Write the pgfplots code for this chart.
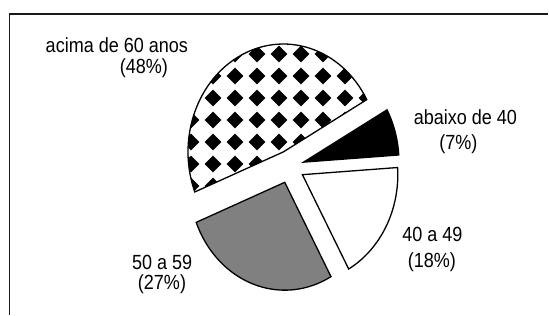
\documentclass[border=0pt]{standalone}
\usepackage{pgfplots}
\pgfplotsset{compat=1.18}
\usepackage{fontspec}
\setmainfont{Liberation Sans}[FakeStretch=0.88]
\usetikzlibrary{patterns}

\newcommand\dmd[2]{% diamond centred at (#1,#2) pt
  \pgfpathmoveto{\pgfqpoint{#1pt}{\dimexpr#2pt-8.3pt\relax}}%
  \pgfpathlineto{\pgfqpoint{\dimexpr#1pt+8.3pt\relax}{#2pt}}%
  \pgfpathlineto{\pgfqpoint{#1pt}{\dimexpr#2pt+8.3pt\relax}}%
  \pgfpathlineto{\pgfqpoint{\dimexpr#1pt-8.3pt\relax}{#2pt}}%
  \pgfpathclose}
\pgfdeclarepatternformonly{bigdiamonds}{\pgfqpoint{0pt}{0pt}}{\pgfqpoint{22pt}{22pt}}{\pgfqpoint{22pt}{22pt}}{%
  \dmd{16}{20}\dmd{-6}{20}\dmd{16}{-2}\dmd{-6}{-2}%
  \pgfusepath{fill}%
}

% pie values (percent), counter-clockwise from the start angle
\def\vA{18} % 40 a 49
\def\vB{7}  % abaixo de 40
\def\vC{48} % acima de 60 anos
\def\vD{27} % 50 a 59
\pgfmathsetmacro\aA{-61}
\pgfmathsetmacro\aB{\aA+3.6*\vA}
\pgfmathsetmacro\aC{\aB+3.6*\vB}
\pgfmathsetmacro\aD{\aC+3.6*\vC}
\pgfmathsetmacro\aE{\aD+3.6*\vD}

\newcommand\pieslice[3]{%
  \pgfmathsetmacro\pmid{(#1+#2)/2}%
  \pgfmathsetmacro\tx{290+14.6*cos(\pmid)}%
  \pgfmathsetmacro\ty{148+16.5*sin(\pmid)}%
  \pgfmathsetmacro\sx{95.5*cos(#1)}%
  \pgfmathsetmacro\sy{108*sin(#1)}%
  \edef\tmp{\noexpand\filldraw[line width=1.3pt,#3] (axis cs:\tx,\ty) -- ++(\sx pt,\sy pt) arc[start angle=#1, end angle=#2, x radius=95.5pt, y radius=108pt] -- cycle;}%
  \tmp
}
\newcommand\lbl{\fontsize{20.5}{24}\selectfont}

\begin{document}
\begin{tikzpicture}
\begin{axis}[
  scale only axis, width=549pt, height=315pt,
  xmin=0, xmax=549, ymin=0, ymax=315,
  hide axis, clip=false,
]
\path (axis cs:0,0) rectangle (axis cs:549,315);
\draw[line width=1.4pt, black!90] (axis cs:9.3,0) -- (axis cs:9.3,301) -- (axis cs:549,301);

\pieslice{\aA}{\aB}{fill=white}
\pieslice{\aB}{\aC}{fill=black}
\pieslice{\aC}{\aD}{fill=white, postaction={pattern=bigdiamonds}}
\pieslice{\aD}{\aE}{fill=black!50}

\node[anchor=base, inner sep=0pt, font=\lbl] at (axis cs:117,262.3) {acima de 60 anos};
\node[anchor=base, inner sep=0pt, font=\lbl] at (axis cs:144,241.7) {(48\%)};
\node[anchor=base, inner sep=0pt, font=\lbl] at (axis cs:466,190) {abaixo de 40};
\node[anchor=base, inner sep=0pt, font=\lbl] at (axis cs:459,165) {(7\%)};
\node[anchor=base, inner sep=0pt, font=\lbl] at (axis cs:433,73.3) {40 a 49};
\node[anchor=base, inner sep=0pt, font=\lbl] at (axis cs:432.5,46.7) {(18\%)};
\node[anchor=base, inner sep=0pt, font=\lbl] at (axis cs:162.3,45) {50 a 59};
\node[anchor=base, inner sep=0pt, font=\lbl] at (axis cs:162.2,25) {(27\%)};
\end{axis}
\end{tikzpicture}
\end{document}
